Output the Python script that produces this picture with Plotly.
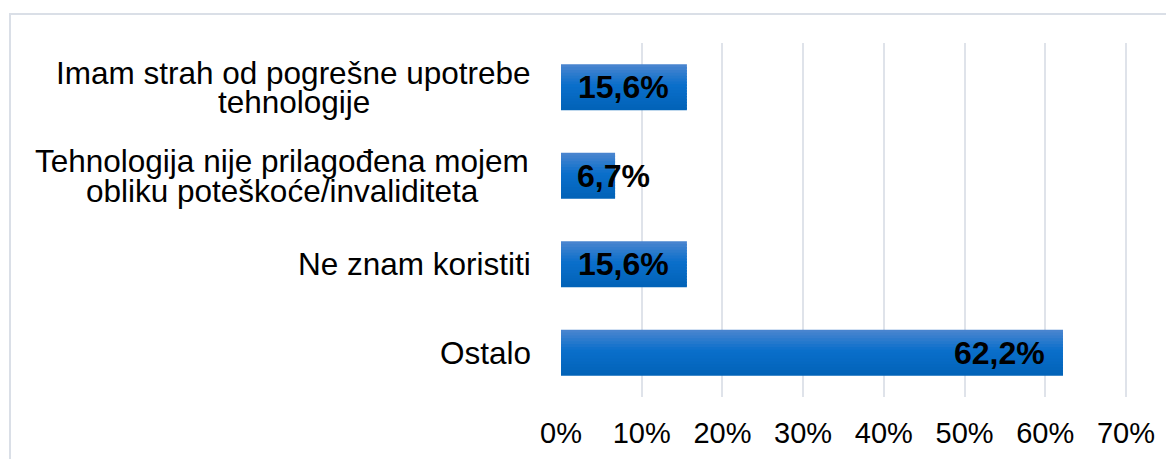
import plotly.graph_objects as go

categories = [
    "Imam strah od pogrešne upotrebe<br>tehnologije",
    "Tehnologija nije prilagođena mojem<br>obliku poteškoće/invaliditeta",
    "Ne znam koristiti",
    "Ostalo",
]
values = [0.156, 0.067, 0.156, 0.622]
tick_vals = [0, 0.1, 0.2, 0.3, 0.4, 0.5, 0.6, 0.7]

# page body has an 8px margin; figure coordinates below account for it
W, H = 1174, 459
ML, MR, MT, MB = 553, 48, 35, 70
XMAX = 0.71
plot_w = W - ML - MR
plot_h = H - MT - MB
px_per_unit = plot_w / XMAX

FONT = "Arial, Liberation Sans, sans-serif"
CAT_SIZE = 31.5
LBL = 32

# Arial / Liberation Sans advance widths (per 1000 em)
AW = {" ": 278, "a": 556, "b": 556, "c": 500, "d": 556, "e": 556, "f": 278, "g": 556,
      "h": 556, "i": 222, "j": 222, "k": 500, "l": 222, "m": 833, "n": 556, "o": 556,
      "p": 556, "q": 556, "r": 333, "s": 500, "t": 278, "u": 556, "v": 500, "w": 722,
      "x": 500, "y": 500, "z": 500, "I": 278, "T": 611, "N": 722, "O": 778, "š": 500,
      "đ": 556, "ć": 500, "č": 500, "ž": 500, "/": 278}


def text_w(s, size):
    return sum(AW.get(c, 556) for c in s) * size / 1000.0


def hex2rgb(h):
    h = h.lstrip("#")
    return [int(h[i:i + 2], 16) for i in (0, 2, 4)]


def lerp(c1, c2, t):
    a, b = hex2rgb(c1), hex2rgb(c2)
    return "rgb(%d,%d,%d)" % tuple(round(a[i] + (b[i] - a[i]) * t) for i in range(3))


stops = [(0.0, "#4d86cf"), (0.45, "#0a6fcb"), (1.0, "#0262b7")]


def grad(t):
    for (t0, c0), (t1, c1) in zip(stops[:-1], stops[1:]):
        if t <= t1:
            return lerp(c0, c1, (t - t0) / (t1 - t0))
    return stops[-1][1]


fig = go.Figure()
BW = 0.52
N = 16
for k in range(N):
    off = -BW / 2 + k * BW / N
    wid = BW / N * (1.0 if k == N - 1 else 1.6)
    if off + wid > BW / 2:
        wid = BW / 2 - off
    fig.add_trace(go.Bar(
        y=categories, x=values, orientation="h",
        width=wid, offset=off,
        marker=dict(color=grad((k + 0.5) / N), line=dict(width=0)),
        showlegend=False, hoverinfo="skip",
    ))

annotations = []
GAP = 30
LINE_H = 29.5
for cat in categories:
    lines = cat.split("<br>")
    n = len(lines)
    block_w = max(text_w(l, CAT_SIZE) for l in lines)
    for i, line in enumerate(lines):
        annotations.append(dict(
            x=0, xref="paper", y=cat, yref="y",
            text=line, showarrow=False,
            xanchor="center", yanchor="middle",
            xshift=-GAP - block_w / 2,
            yshift=(-(i - (n - 1) / 2) * LINE_H),
            font=dict(family=FONT, size=CAT_SIZE, color="#000000"),
        ))

# data labels (inside end; centred on bar end when they do not fit)
for cat, v in zip(categories, values):
    txt = f"{v * 100:.1f}%".replace(".", ",")
    tw = text_w(txt.replace("%", "o").replace(",", " "), LBL)
    bar_px = v * px_per_unit
    if bar_px >= tw + 32:
        annotations.append(dict(x=v, y=cat, xref="x", yref="y", text=f"<b>{txt}</b>",
                                showarrow=False, xanchor="right", yanchor="middle",
                                xshift=-16, font=dict(family=FONT, size=LBL, color="#000000")))
    else:
        annotations.append(dict(x=v, y=cat, xref="x", yref="y", text=f"<b>{txt}</b>",
                                showarrow=False, xanchor="center", yanchor="middle",
                                xshift=-2, font=dict(family=FONT, size=LBL, color="#000000")))

# outer chart border (extends past right and bottom of the image)
bx0 = (2 - ML) / plot_w
by1 = 1 + (MT - 6) / plot_h
shapes = [dict(type="rect", xref="paper", yref="paper",
               x0=bx0, x1=1 + (MR + 20) / plot_w, y0=-(MB + 20) / plot_h, y1=by1,
               line=dict(color="#dadfe7", width=2), fillcolor="rgba(0,0,0,0)", layer="below")]

fig.update_layout(
    width=W, height=H,
    margin=dict(l=ML, r=MR, t=MT, b=MB, pad=0),
    paper_bgcolor="white", plot_bgcolor="white",
    barmode="overlay",
    separators=",.",
    annotations=annotations,
    shapes=shapes,
    font=dict(family=FONT, size=29, color="#000000"),
    xaxis=dict(
        range=[0, XMAX], tickvals=tick_vals, tickformat=".0%",
        showgrid=True, gridcolor="#dfe3ea", gridwidth=2,
        zeroline=False, showline=False, ticks="",
        ticklabelstandoff=16,
        tickfont=dict(family=FONT, size=29, color="#000000"),
    ),
    yaxis=dict(
        autorange="reversed", showticklabels=False, showgrid=False,
        zeroline=False, showline=False, ticks="",
    ),
)

fig.write_html("out.html")
